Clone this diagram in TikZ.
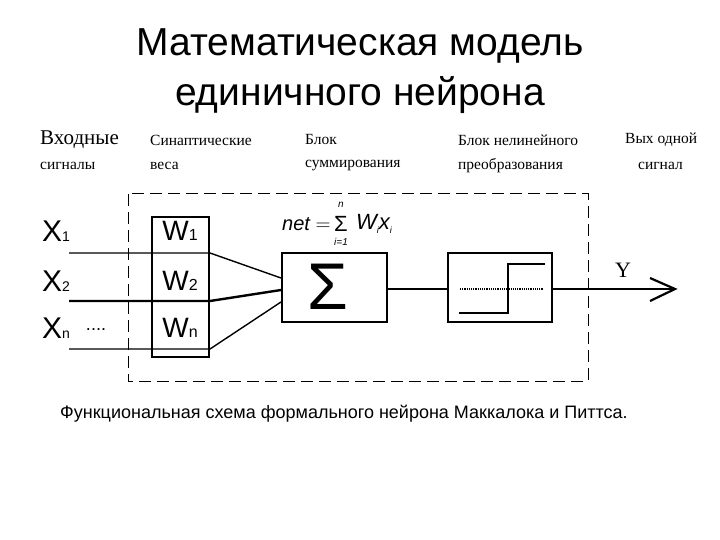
\documentclass[tikz,border=0pt]{standalone}
\usepackage{fontspec}
\setmainfont{Liberation Sans}
\newfontfamily\serf{Liberation Serif}
\begin{document}
\begin{tikzpicture}[x=1pt,y=-1pt,
 hd/.style={font=\serf\fontsize{15.5}{17}\selectfont,anchor=west,inner sep=0},
 bx/.style={draw,line width=2pt,inner sep=0},
 ln/.style={line width=2.4pt}]
\useasboundingbox (0,0) rectangle (720,540);
\node[align=center,font=\fontsize{39}{50}\selectfont] (title) at (360,71) {Математическая модель\\единичного нейрона};
\node[hd,font=\serf\fontsize{21}{22}\selectfont] (h1a) at (40,140) {Входные};
\node[hd] (h1b) at (40,166) {сигналы};
\node[hd] (h2a) at (150,140) {Синаптические};
\node[hd] (h2b) at (150,166) {веса};
\node[hd] (h3a) at (305,140) {Блок};
\node[hd] (h3b) at (305,166) {суммирования};
\node[hd] (h4a) at (458,140) {Блок нелинейного};
\node[hd] (h4b) at (458,166) {преобразования};
\node[hd] (h5a) at (625,140) {Вых одной};
\node[hd] (h5b) at (638,166) {сигнал};
\draw[dashed,dash pattern=on 12pt off 6pt,line width=1pt] (128,194) rectangle (588,381);
\node[bx,minimum width=57,minimum height=140] (w) at (180.5,287) {};
\node[bx,minimum width=105,minimum height=69] (s) at (334.5,287.5) {};
\node[bx,minimum width=104,minimum height=69] (f) at (500,287.5) {};
\node[font=\fontsize{66}{66}\selectfont] (sig) at (328,287) {Σ};
\foreach \i/\y/\t in {1/231/1,2/281/2,3/328/n}{
 \node[font=\fontsize{30}{30}\selectfont,anchor=west,inner sep=0] (x\i) at (42,\y) {X\fontsize{14}{14}\selectfont\t};
 \node[font=\fontsize{28}{28}\selectfont] (wl\i) at (180,\y) {W\fontsize{16}{16}\selectfont\t};}
\node[font=\fontsize{18}{18}\selectfont] (dots) at (96,330) {....};
\coordinate (a1) at (69,253); \coordinate (a2) at (69,301); \coordinate (a3) at (69,349);
\coordinate (b1) at (210,253); \coordinate (b2) at (210,301); \coordinate (b3) at (210,349);
\draw[line width=1.4pt] (a1) -- (b1) -- (s.west |- 0,278);
\draw[ln] (a2) -- (b2) -- (s.west |- 0,290);
\draw[line width=1.4pt] (a3) -- (b3) -- (s.west |- 0,302);
\draw[ln] (s.east |- 0,289) -- (f.west |- 0,289);
\draw[line width=2.8pt] (459,313) -- (508,313) -- (508,264) -- (545,264);
\draw[densely dotted,line width=1.2pt] (460,289) -- (543,289);
\coordinate (yend) at (675,289);
\draw[ln] (f.east |- 0,289) -- (yend);
\draw[line width=2.2pt] (650,278) -- (yend) -- (650,301);
\node[font=\serf\fontsize{22}{22}\selectfont] (Y) at (623,270) {Y};
\node[font=\fontsize{20}{20}\selectfont\itshape,anchor=west,inner sep=0] (net) at (282,224) {net $=$};
\node[font=\fontsize{22}{22}\selectfont] (sum) at (341,224) {Σ};
\node[font=\fontsize{10}{10}\selectfont\itshape] (n) at (341,205) {n};
\node[font=\fontsize{10}{10}\selectfont\itshape] (i1) at (341,242) {i=1};
\node[font=\fontsize{22}{22}\selectfont\itshape,anchor=west,inner sep=0] (wx) at (356,224) {W\raisebox{-4pt}{\fontsize{9}{9}\selectfont i}x\raisebox{-4pt}{\fontsize{9}{9}\selectfont i}};
\node[font=\fontsize{18}{20}\selectfont,anchor=west,inner sep=0] (cap) at (60,414) {Функциональная схема формального нейрона Маккалока и Питтса.};
\end{tikzpicture}
\end{document}
